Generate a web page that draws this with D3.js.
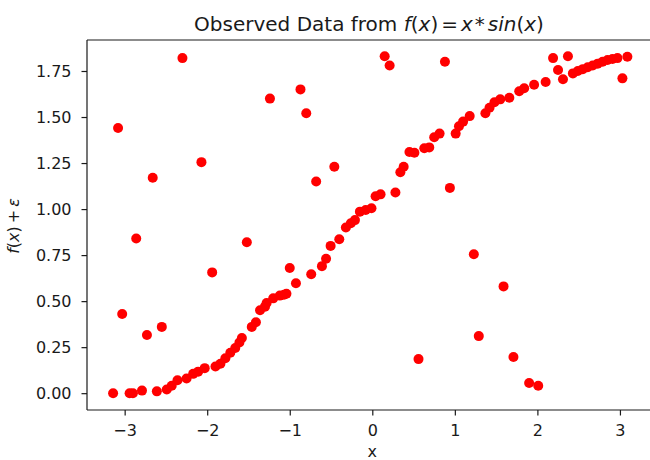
<!DOCTYPE html>
<html><head><meta charset="utf-8">
<script src="https://cdn.jsdelivr.net/npm/d3@7"></script>
<style>body{margin:0;background:#fff}svg{display:block}text{font-family:"DejaVu Sans",sans-serif}</style>
</head><body>
<svg id="c" width="650" height="460"></svg>
<script>
const xValues = [-3.14,-3.08,-3.03,-2.94,-2.90,-2.86,-2.79,-2.73,-2.66,-2.61,-2.55,-2.49,-2.43,-2.36,-2.30,-2.25,-2.17,-2.11,-2.07,-2.03,-1.94,-1.90,-1.84,-1.78,-1.72,-1.66,-1.61,-1.58,-1.52,-1.46,-1.41,-1.36,-1.30,-1.28,-1.24,-1.20,-1.12,-1.07,-1.04,-1.00,-0.925,-0.87,-0.80,-0.74,-0.68,-0.61,-0.56,-0.505,-0.46,-0.40,-0.32,-0.26,-0.21,-0.15,-0.08,-0.01,0.04,0.10,0.15,0.21,0.28,0.34,0.38,0.45,0.51,0.56,0.63,0.69,0.75,0.815,0.88,0.94,1.01,1.05,1.10,1.18,1.23,1.29,1.37,1.42,1.48,1.55,1.59,1.66,1.71,1.78,1.84,1.90,1.96,2.01,2.10,2.19,2.25,2.31,2.37,2.43,2.49,2.55,2.61,2.67,2.73,2.79,2.85,2.91,2.97,3.03,3.09];
const yValues = [0.00,1.44,0.43,0.00,0.00,0.84,0.014,0.316,1.17,0.01,0.36,0.02,0.04,0.07,1.82,0.08,0.105,0.117,1.255,0.136,0.656,0.145,0.16,0.19,0.22,0.245,0.275,0.30,0.82,0.36,0.385,0.45,0.47,0.49,1.60,0.515,0.53,0.535,0.54,0.68,0.597,1.65,1.52,0.646,1.15,0.69,0.73,0.80,1.23,0.836,0.90,0.923,0.94,0.986,0.995,1.004,1.07,1.08,1.83,1.78,1.09,1.20,1.23,1.31,1.306,0.185,1.33,1.335,1.39,1.41,1.80,1.115,1.41,1.45,1.475,1.505,0.755,0.31,1.52,1.55,1.58,1.596,0.58,1.605,0.197,1.64,1.656,0.055,1.675,0.04,1.69,1.82,1.755,1.705,1.83,1.737,1.75,1.76,1.77,1.78,1.79,1.80,1.81,1.815,1.82,1.71,1.827];
const xTicks = [-3,-2,-1,0,1,2,3];
const yTicks = [0,0.25,0.5,0.75,1.0,1.25,1.5,1.75];

const svg = d3.select("#c");
const L = 87, R = 657.6, T = 40, B = 410;
const xLo = -3.142, xHi = 3.142, xPad = 0.05*(xHi-xLo);
const x = d3.scaleLinear().domain([xLo - xPad, xHi + xPad]).range([L, R]);
const yLo = 0, yHi = 1.827, yPad = 0.05*(yHi-yLo);
const y = d3.scaleLinear().domain([yLo - yPad, yHi + yPad]).range([B, T]);
const ink = "#1a1a1a";

svg.append("g").selectAll("circle").data(xValues).join("circle")
  .attr("cx", d=>x(d)).attr("cy",(d,i)=>y(yValues[i])).attr("r",5).attr("fill","#f00");

const fmtX = d => d < 0 ? "\u2212" + Math.abs(d) : String(d);
const gx = svg.append("g").attr("transform",`translate(0,${B})`)
  .call(d3.axisBottom(x).tickValues(xTicks).tickFormat(fmtX).tickSize(5.5).tickPadding(9));
const gy = svg.append("g").attr("transform",`translate(${L},0)`)
  .call(d3.axisLeft(y).tickValues(yTicks).tickFormat(d3.format(".2f")).tickSize(5.5).tickPadding(10));
[gx,gy].forEach(g=>{
  g.select(".domain").remove();
  g.selectAll("line").attr("stroke",ink).attr("stroke-width",1.2);
  g.selectAll("text").attr("font-family","DejaVu Sans").attr("font-size",16).attr("fill",ink);
});
// spines
const sp = svg.append("g").attr("stroke",ink).attr("stroke-width",1.2);
sp.append("line").attr("x1",L).attr("x2",L).attr("y1",T).attr("y2",B);
sp.append("line").attr("x1",L).attr("x2",R).attr("y1",B).attr("y2",B);
sp.append("line").attr("x1",L).attr("x2",R).attr("y1",T).attr("y2",T);
sp.append("line").attr("x1",R).attr("x2",R).attr("y1",T).attr("y2",B);

// title
const t = svg.append("text").attr("x",369).attr("y",30.5).attr("text-anchor","middle")
  .attr("font-size",20).attr("fill",ink);
t.append("tspan").text("Observed Data from ");
t.append("tspan").attr("font-style","italic").text("f");
t.append("tspan").text("(");
t.append("tspan").attr("font-style","italic").text("x");
t.append("tspan").text(")");
t.append("tspan").attr("dx",3).text("=");
t.append("tspan").attr("dx",3).attr("font-style","italic").text("x");
t.append("tspan").attr("dx",2).text("*");
t.append("tspan").attr("dx",3).attr("font-style","italic").text("sin");
t.append("tspan").text("(");
t.append("tspan").attr("font-style","italic").text("x");
t.append("tspan").text(")");

// x label
svg.append("text").attr("x",x(0)).attr("y",457).attr("text-anchor","middle")
  .attr("font-size",16).attr("fill",ink).text("x");
// y label
const yl = svg.append("text").attr("transform",`translate(19,226) rotate(-90)`)
  .attr("text-anchor","middle").attr("font-size",16).attr("fill",ink);
yl.append("tspan").attr("font-style","italic").text("f");
yl.append("tspan").text("(");
yl.append("tspan").attr("font-style","italic").text("x");
yl.append("tspan").text(")");
yl.append("tspan").attr("dx",3).text("+");
yl.append("tspan").attr("dx",3).attr("font-style","italic").text("\u03b5");
</script>
</body></html>
